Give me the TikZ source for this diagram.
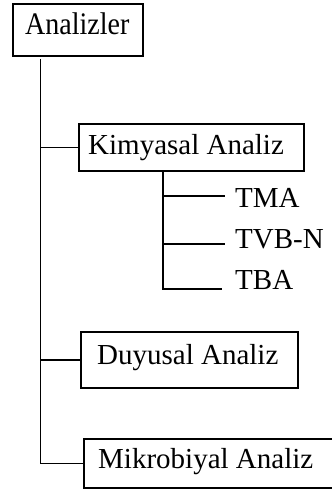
\documentclass[tikz,border=0pt]{standalone}
\usepackage{fontspec}
\setmainfont{Liberation Serif}
\begin{document}
\begin{tikzpicture}[x=1pt,y=-1pt]
\tikzset{
  box/.style={draw, line width=1.8pt, inner sep=0pt, anchor=north west},
  lbl/.style={anchor=base west, inner sep=0pt, font=\fontsize{29}{29}\selectfont},
  wire/.style={line width=1.8pt}
}
\useasboundingbox (0,0) rectangle (332,491);
\clip (0,0) rectangle (332,491);
% boxes
\node[box, minimum width=130pt, minimum height=52pt] (root) at (12,3) {};
\node[box, minimum width=225pt, minimum height=47pt] (kim) at (78,123) {};
\node[box, minimum width=217pt, minimum height=56pt] (duy) at (80,331) {};
\node[box, minimum width=260pt, minimum height=49pt] (mik) at (83,438) {};
% texts
\node[lbl, font=\fontsize{28}{28}\selectfont] (troot) at (25,34) {\scalebox{1}[1.12]{Analizler}};
\node[lbl] (tkim) at (88,154) {Kimyasal Analiz};
\node[lbl] (tduy) at (97,364) {Duyusal Analiz};
\node[lbl] (tmik) at (98,468) {Mikrobiyal Analiz};
\node[lbl] (ttma) at (235,207) {TMA};
\node[lbl] (ttvb) at (235,248) {TVB-N};
\node[lbl] (ttba) at (235,289) {TBA};
% trunk
\coordinate (top) at (40.5,59);
\draw[wire] (top) |- (mik.west);
\draw[wire] (top |- kim.west) -- (kim.west);
\draw[wire] (top |- duy.west) -- (duy.west);
% sub tree
\coordinate (sub) at (163,170);
\coordinate (e1) at (225,196);
\coordinate (e2) at (225,244);
\coordinate (e3) at (222,289);
\draw[wire] (sub) |- (e3);
\draw[wire] (sub |- e1) -- (e1);
\draw[wire] (sub |- e2) -- (e2);
\end{tikzpicture}
\end{document}
